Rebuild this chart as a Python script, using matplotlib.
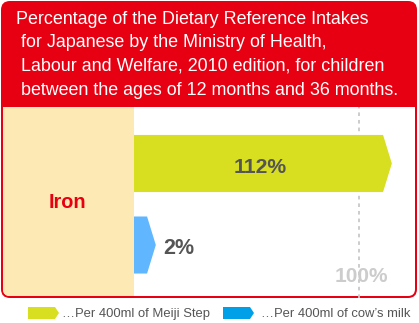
import matplotlib; matplotlib.use("Agg")
import matplotlib.pyplot as plt
from matplotlib.patches import FancyBboxPatch, Rectangle, Polygon

# data
series = ["Meiji Step", "cow's milk"]
values = [112, 2]
value_labels = ["112%", "2%"]
nutrient = "Iron"
ref_value = 100
ref_label = "100%"
title_lines = ["Percentage of the Dietary Reference Intakes",
               " for Japanese by the Ministry of Health,",
               " Labour and Welfare, 2010 edition, for children",
               " between the ages of 12 months and 36 months."]
legend_labels = ["…Per 400ml of Meiji Step", "…Per 400ml of cow’s milk"]

RED = "#E60012"; TAN = "#FDE9B4"; GREY = "#555555"
BAR_COL = ["#D8DF20", "#60B6FF"]; LEG_COL = ["#D8DF20", "#00A0E9"]
plt.rcParams["font.family"] = ["Liberation Sans", "DejaVu Sans"]

W, H = 419, 323
fig = plt.figure(figsize=(W/100, H/100), dpi=100, facecolor="white")

# frame overlay in pixel units
ax0 = fig.add_axes([0, 0, 1, 1]); ax0.set_xlim(0, W); ax0.set_ylim(H, 0); ax0.axis("off")
ax0.add_patch(FancyBboxPatch((1, 1), 416, 297, boxstyle="round,pad=0,rounding_size=9",
                             fc=RED, ec="none", zorder=0))
inner = FancyBboxPatch((3, 95), 412, 201, boxstyle="round,pad=0,rounding_size=7",
                       fc="white", ec="none", zorder=1)
ax0.add_patch(inner)
tan = Rectangle((3, 90), 131, 210, fc=TAN, ec="none", zorder=1.5)
ax0.add_patch(tan); tan.set_clip_path(inner)
ax0.add_patch(Rectangle((1, 60), 416, 47, fc=RED, ec="none", zorder=2))
for i, s in enumerate(title_lines):
    ax0.text(16, 19 + i*23.7, s, color="white", fontsize=12.9, va="center", ha="left", zorder=3)
ax0.text(67, 202, nutrient, color=RED, fontsize=14.3, fontweight="bold", ha="center", va="center", zorder=3)

# legend
lx = [28, 223]; tx = [62, 261]
for c, x0, x1, lab in zip(LEG_COL, lx, tx, legend_labels):
    ax0.add_patch(Polygon([(x0, 307), (x0+27, 307), (x0+31, 313), (x0+27, 319), (x0, 319)],
                          closed=True, fc=c, ec="none"))
    ax0.text(x1, 314, lab, color=GREY, fontsize=9.4, va="center", ha="left")

# bars in data units (0% at x=134px, 100% at x=359px)
x_left, x_right, y_top, y_bot = 134, 417, 107, 298
ax = fig.add_axes([x_left/W, 1 - y_bot/H, (x_right - x_left)/W, (y_bot - y_top)/H])
ax.set_xlim(0, (x_right - x_left)/2.25); ax.set_ylim(1.65, -0.693)
ax.axis("off"); ax.patch.set_alpha(0)
ax.axvline(ref_value, color="#C8C8C8", lw=1.3, ls=(0, (2, 2.2)), zorder=1)
bh = 0.35; tip = 3.9; min_body = 5.8; dy = 0.045
for i, (v, c, lab) in enumerate(zip(values, BAR_COL, value_labels)):
    end = max(v - 1.3, min_body)
    ax.add_patch(Polygon([(0, i - bh), (end, i - bh), (end + tip, i), (end, i + bh), (0, i + bh)],
                         closed=True, fc=c, ec="none", zorder=2))
    if v > 20:
        ax.text(v/2, i + dy, lab, color=GREY, fontsize=15.2, fontweight="bold", ha="center", va="center", zorder=3)
    else:
        ax.text(end + tip + 3.3, i + dy, lab, color=GREY, fontsize=15.5, fontweight="bold", ha="left", va="center", zorder=3)
ax.text(112.9, 1.39, ref_label, color="#CCCCCC", fontsize=15, fontweight="bold", ha="right", va="center", zorder=3)

fig.savefig("out.png", dpi=100, facecolor="white")
